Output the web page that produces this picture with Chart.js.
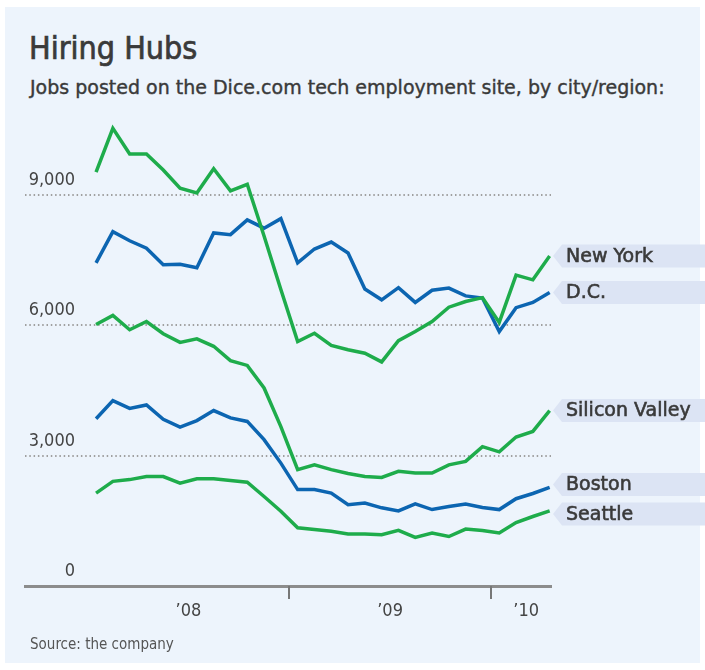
<!DOCTYPE html>
<html>
<head>
<meta charset="utf-8">
<title>Hiring Hubs</title>
<script src="https://cdn.jsdelivr.net/npm/chart.js@4.4.1/dist/chart.umd.min.js"></script>
<style>
    html, body { margin: 0; padding: 0; background: #ffffff; }
    #wrap { position: relative; width: 705px; height: 670px; overflow: hidden; }
    #panel { position: absolute; left: 5px; top: 7px; width: 695px; height: 656px; background: #edf4fc; }
    #chart { position: absolute; left: 0; top: 0; }
    .txt { position: absolute; font-family: 'DejaVu Sans', sans-serif; color: #3a3a3a; white-space: nowrap; }
    #title { left: 29px; top: 29px; font-size: 32px; font-family: 'DejaVu Sans Condensed', 'DejaVu Sans', sans-serif; -webkit-text-stroke: 0.7px #3a3a3a; }
    #subtitle { left: 30px; top: 76px; font-size: 19px; -webkit-text-stroke: 0.4px #3a3a3a; }
    #source { left: 30px; top: 635px; font-size: 15px; color: #555; font-family: 'DejaVu Sans Condensed', 'DejaVu Sans', sans-serif; }
</style>
</head>
<body>
<div id="wrap">
    <div id="panel"></div>
    <div class="txt" id="title">Hiring Hubs</div>
    <div class="txt" id="subtitle">Jobs posted on the Dice.com tech employment site, by city/region:</div>
    <canvas id="chart" width="705" height="670"></canvas>
    <div class="txt" id="source">Source: the company</div>
</div>
<script>
// 月次データ（2008年1月〜2010年4月）
const months = [
    'Jan 2008', 'Feb 2008', 'Mar 2008', 'Apr 2008', 'May 2008', 'Jun 2008',
    'Jul 2008', 'Aug 2008', 'Sep 2008', 'Oct 2008', 'Nov 2008', 'Dec 2008',
    'Jan 2009', 'Feb 2009', 'Mar 2009', 'Apr 2009', 'May 2009', 'Jun 2009',
    'Jul 2009', 'Aug 2009', 'Sep 2009', 'Oct 2009', 'Nov 2009', 'Dec 2009',
    'Jan 2010', 'Feb 2010', 'Mar 2010', 'Apr 2010'
];

const newYork = [9530, 10540, 9950, 9950, 9580, 9160, 9050, 9610, 9100, 9250, 8060, 6830,
    5630, 5820, 5540, 5440, 5360, 5160, 5650, 5860, 6090, 6420, 6550, 6640,
    6070, 7160, 7050, 7600];
const dc = [7440, 8160, 7950, 7780, 7400, 7410, 7330, 8130, 8090, 8430, 8240, 8460,
    7440, 7760, 7920, 7670, 6840, 6590, 6870, 6530, 6810, 6860, 6680, 6630,
    5860, 6410, 6530, 6760];
const siliconValley = [6020, 6230, 5900, 6090, 5810, 5610, 5690, 5520, 5190, 5080, 4560, 3670,
    2680, 2790, 2680, 2590, 2520, 2500, 2640, 2600, 2600, 2790, 2870, 3210,
    3090, 3430, 3560, 4040];
const boston = [3850, 4270, 4090, 4170, 3840, 3660, 3810, 4040, 3870, 3790, 3370, 2830,
    2220, 2220, 2140, 1870, 1910, 1800, 1730, 1890, 1760, 1830, 1890, 1810,
    1760, 2010, 2130, 2270];
const seattle = [2140, 2410, 2450, 2520, 2520, 2370, 2470, 2470, 2430, 2390, 2060, 1720,
    1340, 1300, 1260, 1200, 1200, 1180, 1280, 1120, 1220, 1140, 1310, 1280,
    1220, 1460, 1600, 1730];

// 軸ラベル
const yTicks = [0, 3000, 6000, 9000];
const yearLabels = ['\u201908', '\u201909', '\u201910'];
const yearLabelAt = [5.5, 17.5, 25.6];      // 月インデックス上の位置
const yearBoundaryAt = [11.5, 23.5];

const GREEN = '#1eac4b';
const BLUE = '#0c65b1';
const FONT = "'DejaVu Sans Condensed', 'DejaVu Sans', sans-serif";
const TAG_FONT = "19px 'DejaVu Sans', sans-serif";

const series = [
    { label: 'New York', values: newYork, color: GREEN },
    { label: 'D.C.', values: dc, color: BLUE },
    { label: 'Silicon Valley', values: siliconValley, color: GREEN },
    { label: 'Boston', values: boston, color: BLUE },
    { label: 'Seattle', values: seattle, color: GREEN }
];

// 軸の目盛り文字・年の区切り・右側の都市タグを描く
const annotatePlugin = {
    id: 'annotate',
    afterDraw(chart) {
        const { ctx, chartArea, scales: { x, y } } = chart;
        ctx.save();

        // y軸ラベル（グリッド線の上）
        ctx.font = '18px ' + FONT;
        ctx.fillStyle = '#444';
        ctx.textAlign = 'right';
        ctx.textBaseline = 'alphabetic';
        yTicks.forEach(v => {
            ctx.fillText(v.toLocaleString('en-US'), 75, y.getPixelForValue(v) - 10);
        });

        // 年の区切り目盛り
        ctx.strokeStyle = '#777';
        ctx.lineWidth = 2;
        yearBoundaryAt.forEach(v => {
            const px = Math.round(x.getPixelForValue(v));
            ctx.beginPath();
            ctx.moveTo(px, chartArea.bottom);
            ctx.lineTo(px, chartArea.bottom + 13);
            ctx.stroke();
        });

        // 年ラベル
        ctx.textAlign = 'center';
        ctx.textBaseline = 'middle';
        yearLabels.forEach((t, i) => {
            ctx.fillText(t, x.getPixelForValue(yearLabelAt[i]), chartArea.bottom + 25);
        });

        // 都市タグ（最終値の高さ、重なりは押し広げる）
        const TAG_H = 23;
        const TAG_GAP = 29.5;
        const tags = chart.data.datasets.map(ds => ({
            text: ds.label,
            y: y.getPixelForValue(ds.data[ds.data.length - 1].y)
        }));
        tags.sort((a, b) => a.y - b.y);
        for (let pass = 0; pass < 10; pass++) {
            for (let i = 1; i < tags.length; i++) {
                const gap = tags[i].y - tags[i - 1].y;
                if (gap < TAG_GAP) {
                    const d = (TAG_GAP - gap) / 2;
                    tags[i].y += d;
                    tags[i - 1].y -= d;
                }
            }
        }
        const tipX = chartArea.right + 2;
        const boxX = tipX + 9;
        tags.forEach(tag => {
            ctx.fillStyle = '#dce4f4';
            ctx.beginPath();
            ctx.moveTo(tipX, tag.y);
            ctx.lineTo(boxX, tag.y - TAG_H / 2);
            ctx.lineTo(chart.width, tag.y - TAG_H / 2);
            ctx.lineTo(chart.width, tag.y + TAG_H / 2);
            ctx.lineTo(boxX, tag.y + TAG_H / 2);
            ctx.closePath();
            ctx.fill();
            // 中太風：塗り＋細い縁取り
            ctx.fillStyle = '#3a3a3a';
            ctx.strokeStyle = '#3a3a3a';
            ctx.lineWidth = 0.6;
            ctx.font = TAG_FONT;
            ctx.textAlign = 'left';
            ctx.textBaseline = 'middle';
            ctx.fillText(tag.text, boxX + 4, tag.y + 1);
            ctx.strokeText(tag.text, boxX + 4, tag.y + 1);
        });

        ctx.restore();
    }
};

const ctx = document.getElementById('chart').getContext('2d');
new Chart(ctx, {
    type: 'line',
    data: {
        datasets: series.map(s => ({
            label: s.label,
            data: s.values.map((v, i) => ({ x: i, y: v, month: months[i] })),
            borderColor: s.color,
            backgroundColor: s.color,
            borderWidth: 3.5,
            pointRadius: 0,
            tension: 0,
            fill: false
        }))
    },
    options: {
        responsive: false,
        animation: false,
        layout: { padding: { left: 25, right: 154, top: 117, bottom: 84 } },
        plugins: {
            legend: { display: false },
            tooltip: { enabled: false }
        },
        scales: {
            x: {
                type: 'linear',
                min: -4.23,
                max: 27.08,
                ticks: { display: false },
                grid: { display: false, drawTicks: false },
                border: { display: true, color: '#8c8c8c', width: 3 }
            },
            y: {
                min: 0,
                max: 10800,
                afterBuildTicks: scale => { scale.ticks = yTicks.map(v => ({ value: v })); },
                ticks: { display: false },
                grid: {
                    drawTicks: false,
                    lineWidth: 2,
                    color: c => (c.tick && c.tick.value === 0) ? 'rgba(0,0,0,0)' : '#a0a0a0'
                },
                border: { display: false, dash: [1.5, 2.8] }
            }
        }
    },
    plugins: [annotatePlugin]
});
</script>
</body>
</html>
